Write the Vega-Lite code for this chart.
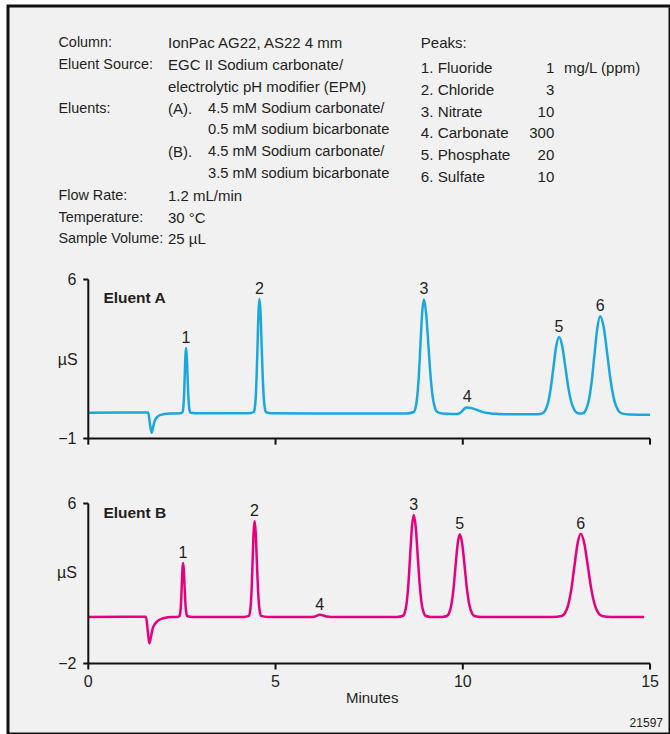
{
  "$schema": "https://vega.github.io/schema/vega-lite/v6.json",
  "width": 662,
  "height": 728,
  "autosize": {"type": "none"},
  "padding": {"left": 8, "top": 6, "right": 0, "bottom": 0},
  "background": "#ffffff",
  "config": {
    "view": {"fill": "#f1f1f1", "stroke": "#111111", "strokeWidth": 3},
    "font": "Liberation Sans",
    "text": {"font": "Liberation Sans", "color": "#231f20"}
  },
  "datasets": {
    "header": [
      {"row": 1, "col": "label", "text": "Column:"},
      {"row": 2, "col": "label", "text": "Eluent Source:"},
      {"row": 4, "col": "label", "text": "Eluents:"},
      {"row": 8, "col": "label", "text": "Flow Rate:"},
      {"row": 9, "col": "label", "text": "Temperature:"},
      {"row": 10, "col": "label", "text": "Sample Volume:"},
      {"row": 1, "col": "value", "text": "IonPac AG22, AS22 4 mm"},
      {"row": 2, "col": "value", "text": "EGC II Sodium carbonate/"},
      {"row": 3, "col": "value", "text": "electrolytic pH modifier (EPM)"},
      {"row": 4, "col": "value", "text": "(A)."},
      {"row": 6, "col": "value", "text": "(B)."},
      {"row": 8, "col": "value", "text": "1.2 mL/min"},
      {"row": 9, "col": "value", "text": "30 °C"},
      {"row": 10, "col": "value", "text": "25 µL"},
      {"row": 4, "col": "detail", "text": "4.5 mM Sodium carbonate/"},
      {"row": 5, "col": "detail", "text": "0.5 mM sodium bicarbonate"},
      {"row": 6, "col": "detail", "text": "4.5 mM Sodium carbonate/"},
      {"row": 7, "col": "detail", "text": "3.5 mM sodium bicarbonate"},
      {"row": 1, "col": "peakhead", "text": "Peaks:"},
      {"row": 2, "col": "peak", "text": "1. Fluoride"},
      {"row": 3, "col": "peak", "text": "2. Chloride"},
      {"row": 4, "col": "peak", "text": "3. Nitrate"},
      {"row": 5, "col": "peak", "text": "4. Carbonate"},
      {"row": 6, "col": "peak", "text": "5. Phosphate"},
      {"row": 7, "col": "peak", "text": "6. Sulfate"},
      {"row": 2, "col": "amount", "text": "1"},
      {"row": 3, "col": "amount", "text": "3"},
      {"row": 4, "col": "amount", "text": "10"},
      {"row": 5, "col": "amount", "text": "300"},
      {"row": 6, "col": "amount", "text": "20"},
      {"row": 7, "col": "amount", "text": "10"},
      {"row": 2, "col": "unit", "text": "mg/L (ppm)"}
    ],
    "yticks": [
      {"eluent": "A", "value": -1},
      {"eluent": "A", "value": 6},
      {"eluent": "B", "value": -2},
      {"eluent": "B", "value": 6}
    ],
    "xticks": [
      {"minutes": 0},
      {"minutes": 5},
      {"minutes": 10},
      {"minutes": 15}
    ],
    "apex": [
      {"eluent": "A", "peak": 1, "minutes": 2.61, "signal": 2.98},
      {"eluent": "A", "peak": 2, "minutes": 4.57, "signal": 5.15},
      {"eluent": "A", "peak": 3, "minutes": 8.96, "signal": 5.12},
      {"eluent": "A", "peak": 4, "minutes": 10.12, "signal": 0.37},
      {"eluent": "A", "peak": 5, "minutes": 12.57, "signal": 3.47},
      {"eluent": "A", "peak": 6, "minutes": 13.67, "signal": 4.38},
      {"eluent": "B", "peak": 1, "minutes": 2.53, "signal": 3.02},
      {"eluent": "B", "peak": 2, "minutes": 4.44, "signal": 5.13},
      {"eluent": "B", "peak": 3, "minutes": 8.69, "signal": 5.43},
      {"eluent": "B", "peak": 4, "minutes": 6.18, "signal": 0.44},
      {"eluent": "B", "peak": 5, "minutes": 9.92, "signal": 4.46},
      {"eluent": "B", "peak": 6, "minutes": 13.15, "signal": 4.49}
    ],
    "trace": [
      {"eluent": "A", "minutes": 0, "signal": 0.13},
      {"eluent": "A", "minutes": 1.0, "signal": 0.14},
      {"eluent": "A", "minutes": 1.6, "signal": 0.14},
      {"eluent": "A", "minutes": 1.645, "signal": -0.35},
      {"eluent": "A", "minutes": 1.69, "signal": -0.745},
      {"eluent": "A", "minutes": 1.73, "signal": -0.5},
      {"eluent": "A", "minutes": 1.78, "signal": -0.19},
      {"eluent": "A", "minutes": 1.85, "signal": -0.04},
      {"eluent": "A", "minutes": 1.91, "signal": 0.03},
      {"eluent": "A", "minutes": 2.18, "signal": 0.1},
      {"eluent": "A", "minutes": 2.45, "signal": 0.11},
      {"eluent": "A", "minutes": 2.511, "signal": 0.142},
      {"eluent": "A", "minutes": 2.528, "signal": 0.236},
      {"eluent": "A", "minutes": 2.544, "signal": 0.498},
      {"eluent": "A", "minutes": 2.561, "signal": 1.042},
      {"eluent": "A", "minutes": 2.577, "signal": 1.851},
      {"eluent": "A", "minutes": 2.594, "signal": 2.643},
      {"eluent": "A", "minutes": 2.61, "signal": 2.98},
      {"eluent": "A", "minutes": 2.629, "signal": 2.643},
      {"eluent": "A", "minutes": 2.648, "signal": 1.851},
      {"eluent": "A", "minutes": 2.667, "signal": 1.042},
      {"eluent": "A", "minutes": 2.686, "signal": 0.498},
      {"eluent": "A", "minutes": 2.705, "signal": 0.236},
      {"eluent": "A", "minutes": 2.724, "signal": 0.142},
      {"eluent": "A", "minutes": 2.85, "signal": 0.11},
      {"eluent": "A", "minutes": 3.5, "signal": 0.11},
      {"eluent": "A", "minutes": 4.3, "signal": 0.11},
      {"eluent": "A", "minutes": 4.42, "signal": 0.166},
      {"eluent": "A", "minutes": 4.445, "signal": 0.331},
      {"eluent": "A", "minutes": 4.47, "signal": 0.792},
      {"eluent": "A", "minutes": 4.495, "signal": 1.746},
      {"eluent": "A", "minutes": 4.52, "signal": 3.167},
      {"eluent": "A", "minutes": 4.545, "signal": 4.558},
      {"eluent": "A", "minutes": 4.57, "signal": 5.15},
      {"eluent": "A", "minutes": 4.599, "signal": 4.558},
      {"eluent": "A", "minutes": 4.628, "signal": 3.167},
      {"eluent": "A", "minutes": 4.657, "signal": 1.746},
      {"eluent": "A", "minutes": 4.686, "signal": 0.792},
      {"eluent": "A", "minutes": 4.715, "signal": 0.331},
      {"eluent": "A", "minutes": 4.744, "signal": 0.166},
      {"eluent": "A", "minutes": 4.9, "signal": 0.11},
      {"eluent": "A", "minutes": 6.0, "signal": 0.1},
      {"eluent": "A", "minutes": 7.5, "signal": 0.1},
      {"eluent": "A", "minutes": 8.5, "signal": 0.1},
      {"eluent": "A", "minutes": 8.69, "signal": 0.166},
      {"eluent": "A", "minutes": 8.735, "signal": 0.33},
      {"eluent": "A", "minutes": 8.78, "signal": 0.788},
      {"eluent": "A", "minutes": 8.825, "signal": 1.737},
      {"eluent": "A", "minutes": 8.87, "signal": 3.149},
      {"eluent": "A", "minutes": 8.915, "signal": 4.531},
      {"eluent": "A", "minutes": 8.96, "signal": 5.12},
      {"eluent": "A", "minutes": 9.02, "signal": 4.531},
      {"eluent": "A", "minutes": 9.08, "signal": 3.149},
      {"eluent": "A", "minutes": 9.14, "signal": 1.737},
      {"eluent": "A", "minutes": 9.2, "signal": 0.788},
      {"eluent": "A", "minutes": 9.26, "signal": 0.33},
      {"eluent": "A", "minutes": 9.32, "signal": 0.166},
      {"eluent": "A", "minutes": 9.45, "signal": 0.1},
      {"eluent": "A", "minutes": 9.7, "signal": 0.08},
      {"eluent": "A", "minutes": 9.83, "signal": 0.083},
      {"eluent": "A", "minutes": 9.875, "signal": 0.093},
      {"eluent": "A", "minutes": 9.92, "signal": 0.119},
      {"eluent": "A", "minutes": 9.965, "signal": 0.174},
      {"eluent": "A", "minutes": 10.01, "signal": 0.256},
      {"eluent": "A", "minutes": 10.055, "signal": 0.336},
      {"eluent": "A", "minutes": 10.1, "signal": 0.37},
      {"eluent": "A", "minutes": 10.24, "signal": 0.336},
      {"eluent": "A", "minutes": 10.38, "signal": 0.256},
      {"eluent": "A", "minutes": 10.52, "signal": 0.174},
      {"eluent": "A", "minutes": 10.66, "signal": 0.119},
      {"eluent": "A", "minutes": 10.8, "signal": 0.093},
      {"eluent": "A", "minutes": 10.94, "signal": 0.083},
      {"eluent": "A", "minutes": 11.3, "signal": 0.07},
      {"eluent": "A", "minutes": 12.0, "signal": 0.07},
      {"eluent": "A", "minutes": 12.12, "signal": 0.108},
      {"eluent": "A", "minutes": 12.195, "signal": 0.219},
      {"eluent": "A", "minutes": 12.27, "signal": 0.53},
      {"eluent": "A", "minutes": 12.345, "signal": 1.174},
      {"eluent": "A", "minutes": 12.42, "signal": 2.132},
      {"eluent": "A", "minutes": 12.495, "signal": 3.071},
      {"eluent": "A", "minutes": 12.57, "signal": 3.47},
      {"eluent": "A", "minutes": 12.655, "signal": 3.071},
      {"eluent": "A", "minutes": 12.74, "signal": 2.132},
      {"eluent": "A", "minutes": 12.825, "signal": 1.174},
      {"eluent": "A", "minutes": 12.91, "signal": 0.53},
      {"eluent": "A", "minutes": 12.995, "signal": 0.219},
      {"eluent": "A", "minutes": 13.08, "signal": 0.108},
      {"eluent": "A", "minutes": 13.14, "signal": 0.1},
      {"eluent": "A", "minutes": 13.205, "signal": 0.108},
      {"eluent": "A", "minutes": 13.283, "signal": 0.25},
      {"eluent": "A", "minutes": 13.36, "signal": 0.645},
      {"eluent": "A", "minutes": 13.438, "signal": 1.463},
      {"eluent": "A", "minutes": 13.515, "signal": 2.68},
      {"eluent": "A", "minutes": 13.593, "signal": 3.872},
      {"eluent": "A", "minutes": 13.67, "signal": 4.38},
      {"eluent": "A", "minutes": 13.765, "signal": 3.872},
      {"eluent": "A", "minutes": 13.86, "signal": 2.68},
      {"eluent": "A", "minutes": 13.955, "signal": 1.463},
      {"eluent": "A", "minutes": 14.05, "signal": 0.645},
      {"eluent": "A", "minutes": 14.145, "signal": 0.25},
      {"eluent": "A", "minutes": 14.24, "signal": 0.108},
      {"eluent": "A", "minutes": 14.45, "signal": 0.06},
      {"eluent": "A", "minutes": 15.0, "signal": 0.05},
      {"eluent": "B", "minutes": 0, "signal": 0.33},
      {"eluent": "B", "minutes": 1.0, "signal": 0.34},
      {"eluent": "B", "minutes": 1.54, "signal": 0.34},
      {"eluent": "B", "minutes": 1.59, "signal": -0.4},
      {"eluent": "B", "minutes": 1.63, "signal": -0.99},
      {"eluent": "B", "minutes": 1.67, "signal": -0.7},
      {"eluent": "B", "minutes": 1.72, "signal": -0.24},
      {"eluent": "B", "minutes": 1.77, "signal": -0.05},
      {"eluent": "B", "minutes": 1.83, "signal": 0.09},
      {"eluent": "B", "minutes": 2.0, "signal": 0.26},
      {"eluent": "B", "minutes": 2.25, "signal": 0.33},
      {"eluent": "B", "minutes": 2.38, "signal": 0.33},
      {"eluent": "B", "minutes": 2.431, "signal": 0.36},
      {"eluent": "B", "minutes": 2.448, "signal": 0.448},
      {"eluent": "B", "minutes": 2.464, "signal": 0.694},
      {"eluent": "B", "minutes": 2.481, "signal": 1.203},
      {"eluent": "B", "minutes": 2.497, "signal": 1.961},
      {"eluent": "B", "minutes": 2.514, "signal": 2.704},
      {"eluent": "B", "minutes": 2.53, "signal": 3.02},
      {"eluent": "B", "minutes": 2.549, "signal": 2.704},
      {"eluent": "B", "minutes": 2.568, "signal": 1.961},
      {"eluent": "B", "minutes": 2.587, "signal": 1.203},
      {"eluent": "B", "minutes": 2.606, "signal": 0.694},
      {"eluent": "B", "minutes": 2.625, "signal": 0.448},
      {"eluent": "B", "minutes": 2.644, "signal": 0.36},
      {"eluent": "B", "minutes": 2.8, "signal": 0.33},
      {"eluent": "B", "minutes": 3.5, "signal": 0.33},
      {"eluent": "B", "minutes": 4.15, "signal": 0.33},
      {"eluent": "B", "minutes": 4.29, "signal": 0.383},
      {"eluent": "B", "minutes": 4.315, "signal": 0.541},
      {"eluent": "B", "minutes": 4.34, "signal": 0.979},
      {"eluent": "B", "minutes": 4.365, "signal": 1.889},
      {"eluent": "B", "minutes": 4.39, "signal": 3.241},
      {"eluent": "B", "minutes": 4.415, "signal": 4.566},
      {"eluent": "B", "minutes": 4.44, "signal": 5.13},
      {"eluent": "B", "minutes": 4.469, "signal": 4.566},
      {"eluent": "B", "minutes": 4.498, "signal": 3.241},
      {"eluent": "B", "minutes": 4.527, "signal": 1.889},
      {"eluent": "B", "minutes": 4.556, "signal": 0.979},
      {"eluent": "B", "minutes": 4.585, "signal": 0.541},
      {"eluent": "B", "minutes": 4.614, "signal": 0.383},
      {"eluent": "B", "minutes": 4.8, "signal": 0.33},
      {"eluent": "B", "minutes": 5.5, "signal": 0.33},
      {"eluent": "B", "minutes": 5.9, "signal": 0.33},
      {"eluent": "B", "minutes": 5.97, "signal": 0.331},
      {"eluent": "B", "minutes": 6.005, "signal": 0.335},
      {"eluent": "B", "minutes": 6.04, "signal": 0.345},
      {"eluent": "B", "minutes": 6.075, "signal": 0.366},
      {"eluent": "B", "minutes": 6.11, "signal": 0.397},
      {"eluent": "B", "minutes": 6.145, "signal": 0.427},
      {"eluent": "B", "minutes": 6.18, "signal": 0.44},
      {"eluent": "B", "minutes": 6.23, "signal": 0.427},
      {"eluent": "B", "minutes": 6.28, "signal": 0.397},
      {"eluent": "B", "minutes": 6.33, "signal": 0.366},
      {"eluent": "B", "minutes": 6.38, "signal": 0.345},
      {"eluent": "B", "minutes": 6.43, "signal": 0.335},
      {"eluent": "B", "minutes": 6.48, "signal": 0.331},
      {"eluent": "B", "minutes": 7.0, "signal": 0.33},
      {"eluent": "B", "minutes": 7.8, "signal": 0.33},
      {"eluent": "B", "minutes": 8.25, "signal": 0.33},
      {"eluent": "B", "minutes": 8.405, "signal": 0.387},
      {"eluent": "B", "minutes": 8.453, "signal": 0.554},
      {"eluent": "B", "minutes": 8.5, "signal": 1.02},
      {"eluent": "B", "minutes": 8.548, "signal": 1.986},
      {"eluent": "B", "minutes": 8.595, "signal": 3.423},
      {"eluent": "B", "minutes": 8.643, "signal": 4.831},
      {"eluent": "B", "minutes": 8.69, "signal": 5.43},
      {"eluent": "B", "minutes": 8.743, "signal": 4.831},
      {"eluent": "B", "minutes": 8.795, "signal": 3.423},
      {"eluent": "B", "minutes": 8.848, "signal": 1.986},
      {"eluent": "B", "minutes": 8.9, "signal": 1.02},
      {"eluent": "B", "minutes": 8.953, "signal": 0.554},
      {"eluent": "B", "minutes": 9.005, "signal": 0.387},
      {"eluent": "B", "minutes": 9.15, "signal": 0.33},
      {"eluent": "B", "minutes": 9.29, "signal": 0.33},
      {"eluent": "B", "minutes": 9.45, "signal": 0.33},
      {"eluent": "B", "minutes": 9.575, "signal": 0.376},
      {"eluent": "B", "minutes": 9.633, "signal": 0.511},
      {"eluent": "B", "minutes": 9.69, "signal": 0.889},
      {"eluent": "B", "minutes": 9.748, "signal": 1.671},
      {"eluent": "B", "minutes": 9.805, "signal": 2.835},
      {"eluent": "B", "minutes": 9.863, "signal": 3.975},
      {"eluent": "B", "minutes": 9.92, "signal": 4.46},
      {"eluent": "B", "minutes": 9.985, "signal": 3.975},
      {"eluent": "B", "minutes": 10.05, "signal": 2.835},
      {"eluent": "B", "minutes": 10.115, "signal": 1.671},
      {"eluent": "B", "minutes": 10.18, "signal": 0.889},
      {"eluent": "B", "minutes": 10.245, "signal": 0.511},
      {"eluent": "B", "minutes": 10.31, "signal": 0.376},
      {"eluent": "B", "minutes": 10.5, "signal": 0.33},
      {"eluent": "B", "minutes": 11.5, "signal": 0.33},
      {"eluent": "B", "minutes": 12.4, "signal": 0.33},
      {"eluent": "B", "minutes": 12.64, "signal": 0.376},
      {"eluent": "B", "minutes": 12.725, "signal": 0.513},
      {"eluent": "B", "minutes": 12.81, "signal": 0.893},
      {"eluent": "B", "minutes": 12.895, "signal": 1.681},
      {"eluent": "B", "minutes": 12.98, "signal": 2.853},
      {"eluent": "B", "minutes": 13.065, "signal": 4.001},
      {"eluent": "B", "minutes": 13.15, "signal": 4.49},
      {"eluent": "B", "minutes": 13.245, "signal": 4.001},
      {"eluent": "B", "minutes": 13.34, "signal": 2.853},
      {"eluent": "B", "minutes": 13.435, "signal": 1.681},
      {"eluent": "B", "minutes": 13.53, "signal": 0.893},
      {"eluent": "B", "minutes": 13.625, "signal": 0.513},
      {"eluent": "B", "minutes": 13.72, "signal": 0.376},
      {"eluent": "B", "minutes": 13.95, "signal": 0.33},
      {"eluent": "B", "minutes": 14.84, "signal": 0.33}
    ]
  },
  "layer": [
    {
      "data": {"name": "header"},
      "layer": [
        {
          "transform": [{"filter": {"field": "col", "equal": "label"}}],
          "mark": {"type": "text", "align": "left", "baseline": "middle", "fontSize": 14.4},
          "encoding": {
            "x": {"datum": -0.796, "scale": {"domain": [-2.144, 15.533], "nice": false, "zero": false}, "axis": null},
            "y": {"field": "row", "type": "quantitative", "scale": {"domain": [-0.7126, 32.712], "reverse": true, "nice": false, "zero": false}, "axis": null},
            "text": {"field": "text"}
          }
        },
        {
          "transform": [{"filter": {"field": "col", "equal": "value"}}],
          "mark": {"type": "text", "align": "left", "baseline": "middle", "fontSize": 15},
          "encoding": {
            "x": {"datum": 2.128, "axis": null},
            "y": {"field": "row", "type": "quantitative", "axis": null},
            "text": {"field": "text"}
          }
        },
        {
          "transform": [{"filter": {"field": "col", "equal": "detail"}}],
          "mark": {"type": "text", "align": "left", "baseline": "middle", "fontSize": 14.7},
          "encoding": {
            "x": {"datum": 3.199, "axis": null},
            "y": {"field": "row", "type": "quantitative", "axis": null},
            "text": {"field": "text"}
          }
        },
        {
          "transform": [{"filter": {"field": "col", "equal": "peakhead"}}],
          "mark": {"type": "text", "align": "left", "baseline": "middle", "fontSize": 15},
          "encoding": {
            "x": {"datum": 8.879, "axis": null},
            "y": {"field": "row", "type": "quantitative", "axis": null},
            "text": {"field": "text"}
          }
        },
        {
          "transform": [{"filter": {"field": "col", "equal": "peak"}}],
          "mark": {"type": "text", "align": "left", "baseline": "middle", "fontSize": 15.2, "yOffset": 3},
          "encoding": {
            "x": {"datum": 8.879, "axis": null},
            "y": {"field": "row", "type": "quantitative", "axis": null},
            "text": {"field": "text"}
          }
        },
        {
          "transform": [{"filter": {"field": "col", "equal": "amount"}}],
          "mark": {"type": "text", "align": "right", "baseline": "middle", "fontSize": 15, "yOffset": 3},
          "encoding": {
            "x": {"datum": 12.443, "axis": null},
            "y": {"field": "row", "type": "quantitative", "axis": null},
            "text": {"field": "text"}
          }
        },
        {
          "transform": [{"filter": {"field": "col", "equal": "unit"}}],
          "mark": {"type": "text", "align": "left", "baseline": "middle", "fontSize": 15, "yOffset": 3},
          "encoding": {
            "x": {"datum": 12.705, "axis": null},
            "y": {"field": "row", "type": "quantitative", "axis": null},
            "text": {"field": "text"}
          }
        }
      ]
    },
    {
      "layer": [
        {
          "data": {"name": "trace"},
          "transform": [{"filter": {"field": "eluent", "equal": "A"}}],
          "mark": {"type": "line", "color": "#1aa7e0", "strokeWidth": 2.5, "interpolate": "monotone"},
          "encoding": {
            "x": {"field": "minutes", "type": "quantitative", "scale": {"domain": [-2.144, 15.533], "nice": false, "zero": false}, "axis": null},
            "y": {"field": "signal", "type": "quantitative", "scale": {"domain": [-14.009, 18.041], "nice": false, "zero": false}, "axis": null}
          }
        },
        {
          "data": {"values": [{}]},
          "mark": {"type": "rule", "color": "#111111", "strokeWidth": 2},
          "encoding": {
            "x": {"datum": 0, "axis": null},
            "y": {"datum": -1, "axis": null},
            "y2": {"datum": 6}
          }
        },
        {
          "data": {"values": [{}]},
          "mark": {"type": "rule", "color": "#111111", "strokeWidth": 2},
          "encoding": {
            "x": {"datum": 0, "axis": null},
            "x2": {"datum": 15},
            "y": {"datum": -1, "axis": null}
          }
        },
        {
          "data": {"name": "yticks"},
          "transform": [{"filter": {"field": "eluent", "equal": "A"}}],
          "layer": [
            {
              "mark": {"type": "rule", "color": "#111111", "strokeWidth": 2},
              "encoding": {
                "x": {"datum": -0.134, "axis": null},
                "x2": {"datum": 0},
                "y": {"field": "value", "type": "quantitative", "axis": null}
              }
            },
            {
              "mark": {"type": "text", "align": "right", "baseline": "middle", "fontSize": 16},
              "encoding": {
                "x": {"datum": -0.315, "axis": null},
                "y": {"field": "value", "type": "quantitative", "axis": null},
                "text": {"field": "value", "type": "quantitative", "format": "d"}
              }
            }
          ]
        },
        {
          "data": {"name": "xticks"},
          "mark": {"type": "rule", "color": "#111111", "strokeWidth": 2},
          "encoding": {
            "x": {"field": "minutes", "type": "quantitative", "axis": null},
            "y": {"datum": -1, "axis": null},
            "y2": {"datum": -1.27}
          }
        },
        {
          "data": {"name": "apex"},
          "transform": [{"filter": {"field": "eluent", "equal": "A"}}],
          "mark": {"type": "text", "align": "center", "baseline": "bottom", "dy": -2, "fontSize": 16},
          "encoding": {
            "x": {"field": "minutes", "type": "quantitative", "axis": null},
            "y": {"field": "signal", "type": "quantitative", "axis": null},
            "text": {"field": "peak"}
          }
        },
        {
          "data": {"values": [{}]},
          "mark": {"type": "text", "text": "Eluent A", "align": "left", "baseline": "middle", "fontSize": 15.5, "fontWeight": "bold"},
          "encoding": {
            "x": {"datum": 0.403, "axis": null},
            "y": {"datum": 5.17, "axis": null}
          }
        },
        {
          "data": {"values": [{}]},
          "mark": {"type": "text", "text": "µS", "align": "right", "baseline": "middle", "fontSize": 16},
          "encoding": {
            "x": {"datum": -0.283, "axis": null},
            "y": {"datum": 2.456, "axis": null}
          }
        }
      ]
    },
    {
      "layer": [
        {
          "data": {"name": "trace"},
          "transform": [{"filter": {"field": "eluent", "equal": "B"}}],
          "mark": {"type": "line", "color": "#e6007e", "strokeWidth": 2.5, "interpolate": "monotone"},
          "encoding": {
            "x": {"field": "minutes", "type": "quantitative", "scale": {"domain": [-2.144, 15.533], "nice": false, "zero": false}, "axis": null},
            "y": {"field": "signal", "type": "quantitative", "scale": {"domain": [-5.525, 30.875], "nice": false, "zero": false}, "axis": null}
          }
        },
        {
          "data": {"values": [{}]},
          "mark": {"type": "rule", "color": "#111111", "strokeWidth": 2},
          "encoding": {
            "x": {"datum": 0, "axis": null},
            "y": {"datum": -2, "axis": null},
            "y2": {"datum": 6}
          }
        },
        {
          "data": {"values": [{}]},
          "mark": {"type": "rule", "color": "#111111", "strokeWidth": 2},
          "encoding": {
            "x": {"datum": 0, "axis": null},
            "x2": {"datum": 15},
            "y": {"datum": -2, "axis": null}
          }
        },
        {
          "data": {"name": "yticks"},
          "transform": [{"filter": {"field": "eluent", "equal": "B"}}],
          "layer": [
            {
              "mark": {"type": "rule", "color": "#111111", "strokeWidth": 2},
              "encoding": {
                "x": {"datum": -0.134, "axis": null},
                "x2": {"datum": 0},
                "y": {"field": "value", "type": "quantitative", "axis": null}
              }
            },
            {
              "mark": {"type": "text", "align": "right", "baseline": "middle", "fontSize": 16},
              "encoding": {
                "x": {"datum": -0.315, "axis": null},
                "y": {"field": "value", "type": "quantitative", "axis": null},
                "text": {"field": "value", "type": "quantitative", "format": "d"}
              }
            }
          ]
        },
        {
          "data": {"name": "xticks"},
          "layer": [
            {
              "mark": {"type": "rule", "color": "#111111", "strokeWidth": 2},
              "encoding": {
                "x": {"field": "minutes", "type": "quantitative", "axis": null},
                "y": {"datum": -2, "axis": null},
                "y2": {"datum": -2.3}
              }
            },
            {
              "mark": {"type": "text", "align": "center", "baseline": "middle", "fontSize": 16},
              "encoding": {
                "x": {"field": "minutes", "type": "quantitative", "axis": null},
                "y": {"datum": -2.91, "axis": null},
                "text": {"field": "minutes", "type": "quantitative", "format": "d"}
              }
            }
          ]
        },
        {
          "data": {"name": "apex"},
          "transform": [{"filter": {"field": "eluent", "equal": "B"}}],
          "mark": {"type": "text", "align": "center", "baseline": "bottom", "dy": -2, "fontSize": 16},
          "encoding": {
            "x": {"field": "minutes", "type": "quantitative", "axis": null},
            "y": {"field": "signal", "type": "quantitative", "axis": null},
            "text": {"field": "peak"}
          }
        },
        {
          "data": {"values": [{}]},
          "mark": {"type": "text", "text": "Eluent B", "align": "left", "baseline": "middle", "fontSize": 15.5, "fontWeight": "bold"},
          "encoding": {
            "x": {"datum": 0.403, "axis": null},
            "y": {"datum": 5.51, "axis": null}
          }
        },
        {
          "data": {"values": [{}]},
          "mark": {"type": "text", "text": "µS", "align": "right", "baseline": "middle", "fontSize": 16},
          "encoding": {
            "x": {"datum": -0.302, "axis": null},
            "y": {"datum": 2.51, "axis": null}
          }
        },
        {
          "data": {"values": [{}]},
          "mark": {"type": "text", "text": "Minutes", "align": "center", "baseline": "middle", "fontSize": 15},
          "encoding": {
            "x": {"datum": 7.58, "axis": null},
            "y": {"datum": -3.725, "axis": null}
          }
        },
        {
          "data": {"values": [{}]},
          "mark": {"type": "text", "text": "21597", "align": "right", "baseline": "middle", "fontSize": 12},
          "encoding": {
            "x": {"datum": 15.346, "axis": null},
            "y": {"datum": -4.975, "axis": null}
          }
        }
      ]
    }
  ],
  "resolve": {"scale": {"y": "independent", "x": "shared"}}
}
